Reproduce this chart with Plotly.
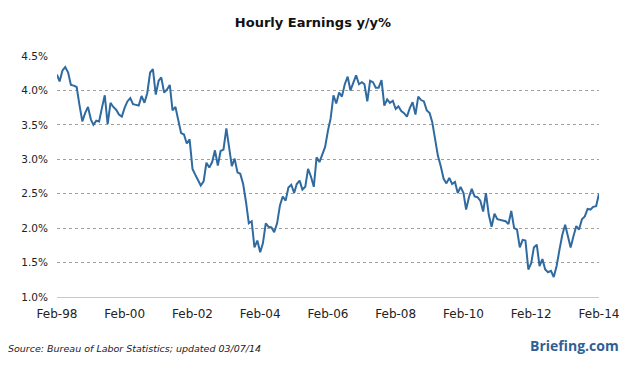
import pandas as pd
import plotly.graph_objects as go

start_month = "1998-02-01"
values = [
    4.23, 4.13, 4.29, 4.34, 4.26, 4.08, 4.07, 4.05, 3.79, 3.55, 3.67, 3.76,
    3.58, 3.50, 3.56, 3.55, 3.75, 3.93, 3.51, 3.82, 3.76, 3.72, 3.65, 3.62,
    3.75, 3.84, 3.89, 3.80, 3.79, 3.78, 3.92, 3.82, 3.96, 4.26, 4.31, 3.94,
    4.14, 4.19, 3.97, 4.01, 4.08, 3.71, 3.76, 3.57, 3.38, 3.36, 3.23, 3.29,
    2.86, 2.78, 2.69, 2.62, 2.68, 2.95, 2.88, 2.96, 3.13, 2.91, 3.12, 3.14,
    3.45, 3.17, 2.90, 3.01, 2.81, 2.79, 2.64, 2.38, 2.07, 2.10, 1.72, 1.82,
    1.65, 1.78, 2.07, 2.02, 2.01, 1.94, 2.07, 2.33, 2.46, 2.40, 2.59, 2.63,
    2.51, 2.64, 2.69, 2.56, 2.60, 2.86, 2.75, 2.60, 3.03, 2.96, 3.06, 3.18,
    3.42, 3.59, 3.93, 3.81, 3.97, 3.91, 4.09, 4.20, 4.00, 4.10, 4.22, 4.09,
    4.12, 4.09, 3.84, 4.14, 4.12, 4.04, 4.04, 4.15, 3.78, 3.87, 3.82, 3.85,
    3.73, 3.77, 3.70, 3.67, 3.62, 3.74, 3.83, 3.65, 3.91, 3.86, 3.84, 3.71,
    3.67, 3.54, 3.28, 3.05, 2.90, 2.72, 2.65, 2.73, 2.64, 2.67, 2.51, 2.60,
    2.51, 2.27, 2.45, 2.57, 2.46, 2.45, 2.40, 2.24, 2.51, 2.19, 2.02, 2.21,
    2.13, 2.12, 2.12, 2.10, 2.06, 2.25, 2.00, 1.98, 1.72, 1.83, 1.82, 1.40,
    1.49, 1.72, 1.76, 1.45, 1.55, 1.40, 1.36, 1.38, 1.29, 1.45, 1.68, 1.90,
    2.05, 1.90, 1.72, 1.88, 2.03, 1.98, 2.13, 2.17, 2.28, 2.27, 2.31, 2.32,
    2.50,
]
months = pd.date_range(start_month, periods=len(values), freq="MS")

x_tick_dates = ["1998-02-01", "2000-02-01", "2002-02-01", "2004-02-01", "2006-02-01",
                "2008-02-01", "2010-02-01", "2012-02-01", "2014-02-01"]
x_tick_labels = ["Feb-98", "Feb-00", "Feb-02", "Feb-04", "Feb-06",
                 "Feb-08", "Feb-10", "Feb-12", "Feb-14"]
y_tick_vals = [1.0, 1.5, 2.0, 2.5, 3.0, 3.5, 4.0, 4.5]
y_tick_labels = ["1.0%", "1.5%", "2.0%", "2.5%", "3.0%", "3.5%", "4.0%", "4.5%"]

title_text = "Hourly Earnings y/y%"
source_text = "Source: Bureau of Labor Statistics; updated 03/07/14"
brand_text = "Briefing.com"

fig = go.Figure()
fig.add_trace(go.Scatter(x=months, y=values, mode="lines",
                         line=dict(color="#2f6aa0", width=2), hoverinfo="skip"))

fig.update_layout(
    width=626, height=367, autosize=False,
    margin=dict(l=57, r=27, t=56, b=70, autoexpand=False),
    paper_bgcolor="white", plot_bgcolor="white",
    showlegend=False,
    title=dict(text="<b>" + title_text + "</b>", x=0.5, xanchor="center",
               y=1 - 22 / 367, yanchor="middle", automargin=False,
               font=dict(family="DejaVu Sans", size=13, color="#111")),
    font=dict(family="DejaVu Sans", color="#222"),
)
fig.update_xaxes(
    range=[months[0], months[-1]], automargin=False,
    tickvals=x_tick_dates, ticktext=x_tick_labels,
    showgrid=False, zeroline=False,
    showline=True, linecolor="#c8c8c8", linewidth=1,
    ticks="", ticklabelstandoff=6,
    tickfont=dict(family="DejaVu Sans", size=12, color="#222"),
)
fig.update_yaxes(
    range=[1.0, 4.5], automargin=False,
    tickvals=y_tick_vals, ticktext=y_tick_labels,
    showgrid=True, gridcolor="#a0a0a0", griddash="dot", gridwidth=1,
    zeroline=False, showline=False, ticks="", ticklabelstandoff=8,
    tickfont=dict(family="DejaVu Sans", size=10.5, color="#222"),
)
fig.add_annotation(text="<i>" + source_text + "</i>", xref="paper", yref="paper",
                   x=-(57 - 6) / 542, y=-(349 - 297.5) / 241.5, xanchor="left", yanchor="middle",
                   showarrow=False, font=dict(family="DejaVu Sans", size=9.5, color="#222"))
fig.add_annotation(text="<b>" + brand_text + "</b>", xref="paper", yref="paper",
                   x=(621 - 57) / 542, y=-(346 - 297.5) / 241.5, xanchor="right", yanchor="middle",
                   showarrow=False, font=dict(family="Open Sans", size=14, color="#2f5f96"))

fig.write_html("out.html",
               config={"displayModeBar": False, "responsive": False, "staticPlot": True},
               post_script="document.body.style.margin='0';document.body.style.overflow='hidden';")
